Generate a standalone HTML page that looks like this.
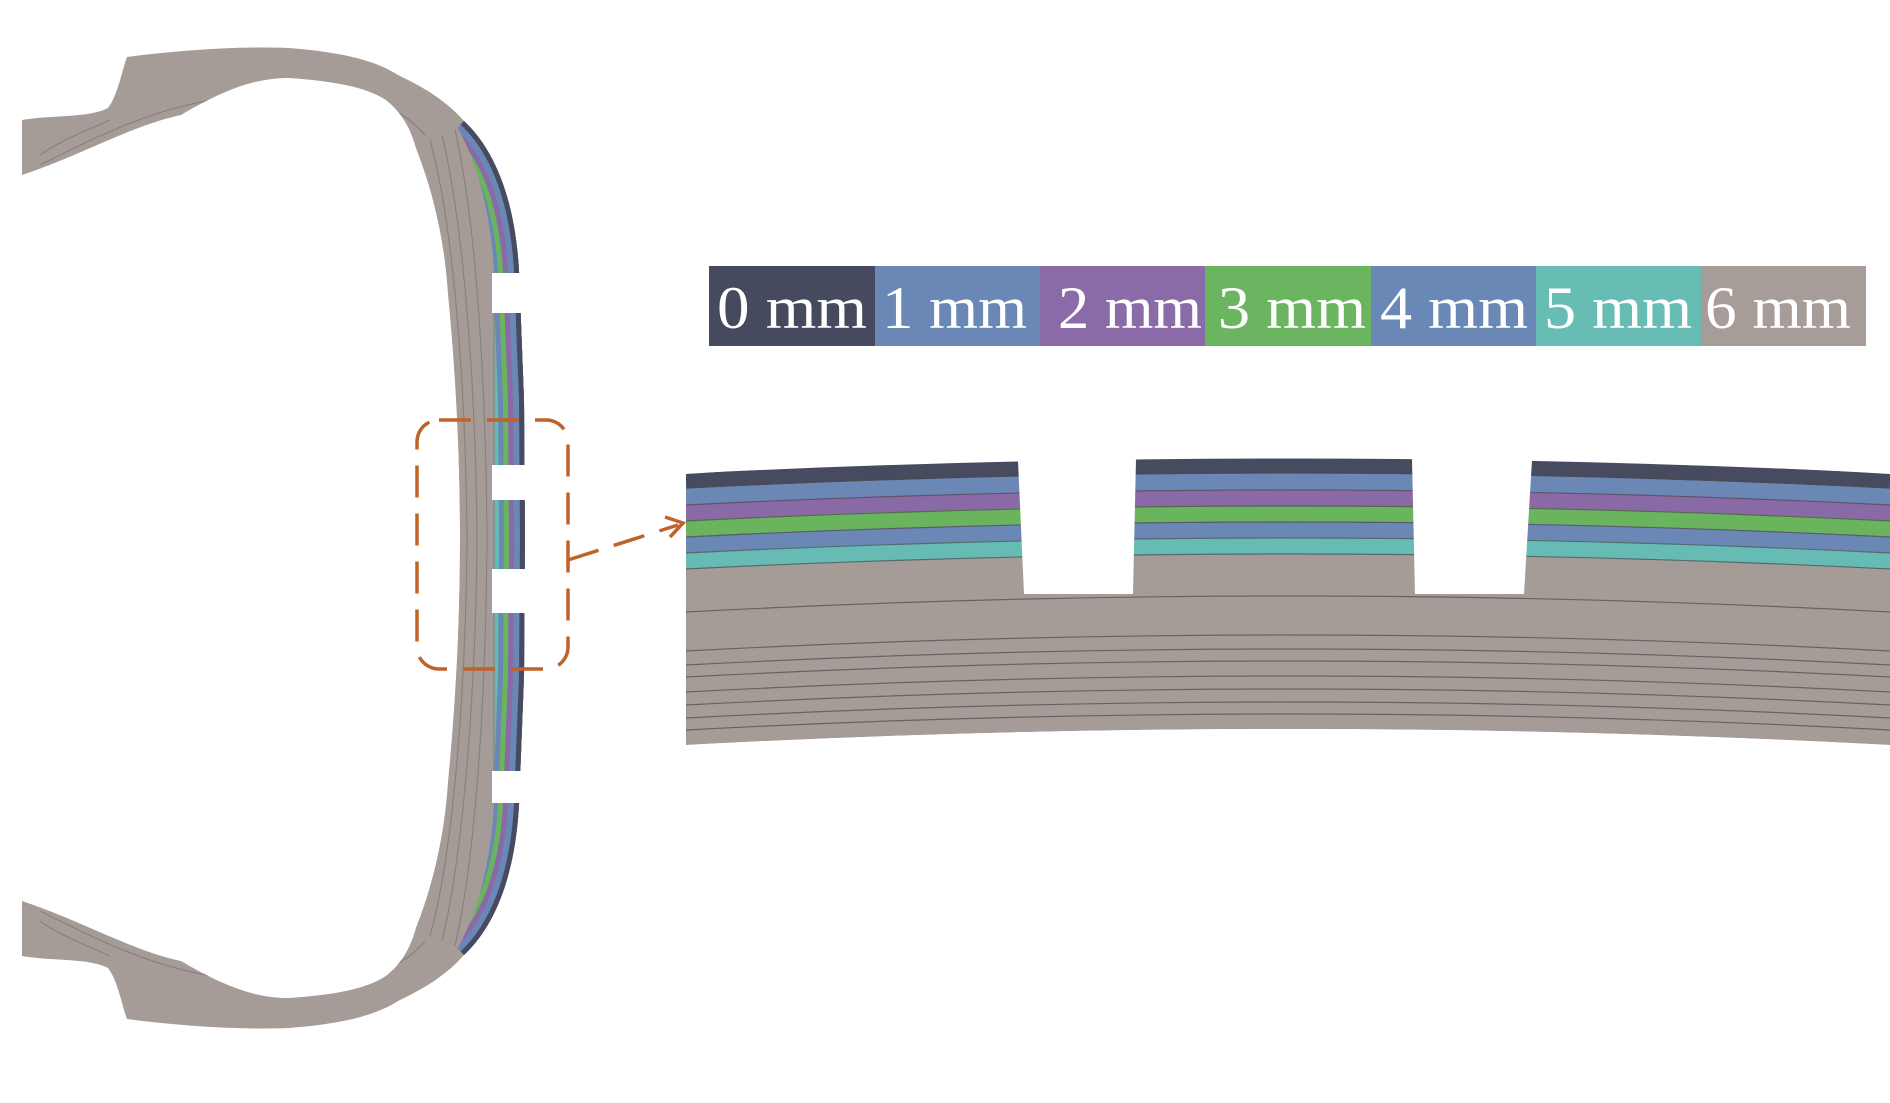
<!DOCTYPE html>
<html><head><meta charset="utf-8"><style>html,body{margin:0;padding:0;background:#fff}svg{display:block}</style></head>
<body>
<svg width="1890" height="1103" viewBox="0 0 1890 1103" xmlns="http://www.w3.org/2000/svg">
<defs>
<path id="bodyp" d="M22,175 L22,120 C50,115 90,118 108,108 C118,95 122,70 127,57 C180,50 240,46 289,48 C340,52 375,60 398,75 C430,90 450,105 464,121 C495,150 515,200 519,271 L524,400 L525,538 L524,676 L519,805 C515,876 495,926 464,955 C450,971 430,986 398,1001 C375,1016 340,1024 289,1028 C240,1030 180,1026 127,1019 C122,1006 118,981 108,968 C90,958 50,961 22,956 L22,901 C80,920 130,950 181,961 C230,990 260,998 289,998 C330,995 365,990 386,976 C400,965 410,950 416,928 C435,880 445,830 448,783 C456,700 460,620 460,538 C460,456 456,376 448,293 C445,246 435,196 416,148 C410,126 400,111 386,100 C365,86 330,81 289,78 C260,78 230,86 181,115 C130,126 80,156 22,175 Z"/>
<clipPath id="tb"><use href="#bodyp"/></clipPath>
<path id="tc" d="M464,121 C495,150 515,200 519,271 L524,400 L525,538 L524,676 L519,805 C515,876 495,926 464,955"/>
</defs>
<use href="#bodyp" fill="#a59c98"/>
<g clip-path="url(#tb)" fill="none">
<use href="#tc" stroke="#66bcb4" stroke-width="62"/>
<use href="#tc" stroke="#6a87b5" stroke-width="52"/>
<use href="#tc" stroke="#6ab45e" stroke-width="42"/>
<use href="#tc" stroke="#8a6aa6" stroke-width="32"/>
<use href="#tc" stroke="#6a87b5" stroke-width="22"/>
<use href="#tc" stroke="#474b60" stroke-width="10"/>
<path d="M430,90 C470,130 490,200 494,271 L494,805 C490,876 470,946 430,986 L300,986 L300,90 Z" fill="#a59c98"/>
<g stroke="#8a817e" stroke-width="1.2">
<path d="M430,140 C455,230 466,400 467,538 C466,676 455,846 430,936"/>
<path d="M442,135 C465,230 476,400 477,538 C476,676 465,846 442,941"/>
<path d="M455,130 C478,230 486,400 487,538 C486,676 478,846 455,946"/>
<path d="M494,271 L494,805"/>
<path d="M40,165 C120,125 180,95 290,92 C360,92 400,105 425,135"/>
<path d="M40,911 C120,951 180,981 290,984 C360,984 400,971 425,941"/>
<path d="M40,155 C60,140 100,125 110,120"/>
<path d="M40,921 C60,936 100,951 110,956"/>
</g>
</g>
<g fill="#fff">
<rect x="492" y="273" width="60" height="40"/>
<rect x="492" y="465" width="60" height="35"/>
<rect x="492" y="569" width="60" height="44"/>
<rect x="492" y="771" width="60" height="32"/>
</g>
<g stroke="#c0622a" stroke-width="3.5" fill="none" stroke-dasharray="32,16">
<rect x="417" y="420" width="151" height="249" rx="22"/>
<path d="M568,560 L678,525"/>
</g>
<path d="M665,517 L683,523 L670,537" stroke="#c0622a" stroke-width="3.5" fill="none"/>
<g>
<rect x="709" y="266" width="166" height="80" fill="#464a5e"/>
<rect x="875" y="266" width="165" height="80" fill="#6a88b6"/>
<rect x="1040" y="266" width="165" height="80" fill="#8b6ba7"/>
<rect x="1205" y="266" width="166" height="80" fill="#6bb560"/>
<rect x="1371" y="266" width="165" height="80" fill="#6a88b6"/>
<rect x="1536" y="266" width="165" height="80" fill="#67bcb3"/>
<rect x="1701" y="266" width="165" height="80" fill="#a69d99"/>
</g>
<g fill="#fff" font-family="Liberation Serif, serif" font-size="60">
<text x="717" y="328" textLength="150" lengthAdjust="spacingAndGlyphs">0 mm</text>
<text x="882" y="328" textLength="145" lengthAdjust="spacingAndGlyphs">1 mm</text>
<text x="1058" y="328" textLength="144" lengthAdjust="spacingAndGlyphs">2 mm</text>
<text x="1218" y="328" textLength="148" lengthAdjust="spacingAndGlyphs">3 mm</text>
<text x="1380" y="328" textLength="148" lengthAdjust="spacingAndGlyphs">4 mm</text>
<text x="1544" y="328" textLength="148" lengthAdjust="spacingAndGlyphs">5 mm</text>
<text x="1705" y="328" textLength="146" lengthAdjust="spacingAndGlyphs">6 mm</text>
</g>
<clipPath id="zc"><rect x="686" y="440" width="1204" height="320"/></clipPath>
<g clip-path="url(#zc)">
<path d="M686,745 Q1288,713 1890,745 L1890,474 Q1288,444 686,474 Z" fill="#a59c98"/>
<g fill="none" stroke-width="17">
<path d="M686,482 Q1288,452 1890,482" stroke="#474b60"/>
<path d="M686,497 Q1288,467 1890,497" stroke="#6a87b5"/>
<path d="M686,513 Q1288,483 1890,513" stroke="#8a6aa6"/>
<path d="M686,529 Q1288,499 1890,529" stroke="#6ab45e"/>
<path d="M686,545 Q1288,515 1890,545" stroke="#6a87b5"/>
<path d="M686,561 Q1288,531 1890,561" stroke="#66bcb4"/>
</g>
<g fill="none" stroke="#4e4a4c" stroke-width="1.2" opacity="0.7">
<path d="M686,488 Q1288,458 1890,488"/><path d="M686,505 Q1288,475 1890,505"/>
<path d="M686,521 Q1288,491 1890,521"/><path d="M686,537 Q1288,507 1890,537"/>
<path d="M686,553 Q1288,523 1890,553"/><path d="M686,569 Q1288,539 1890,569"/>
<path d="M686,612 Q1288,580 1890,612"/>
<path d="M686,651 Q1288,619 1890,651"/><path d="M686,665 Q1288,633 1890,665"/>
<path d="M686,677 Q1288,645 1890,677"/><path d="M686,692 Q1288,660 1890,692"/>
<path d="M686,705 Q1288,673 1890,705"/><path d="M686,718 Q1288,686 1890,718"/>
<path d="M686,730 Q1288,698 1890,730"/>
</g>
<g fill="#fff">
<path d="M686,440 L686,474 Q850,463 1015,460 L1015,440 Z"/>
<polygon points="1016,440 1018,461 1024,594 1133,594 1136,459 1136,440"/>
<polygon points="1412,440 1412,459 1415,594 1524,594 1532,460 1532,440"/>
<path d="M1531,440 L1531,460 Q1720,464 1890,474 L1890,440 Z"/>
</g>
<path d="M686,745 Q1288,713 1890,745 L1890,760 L686,760 Z" fill="#fff"/>
</g>
</svg>
</body></html>
